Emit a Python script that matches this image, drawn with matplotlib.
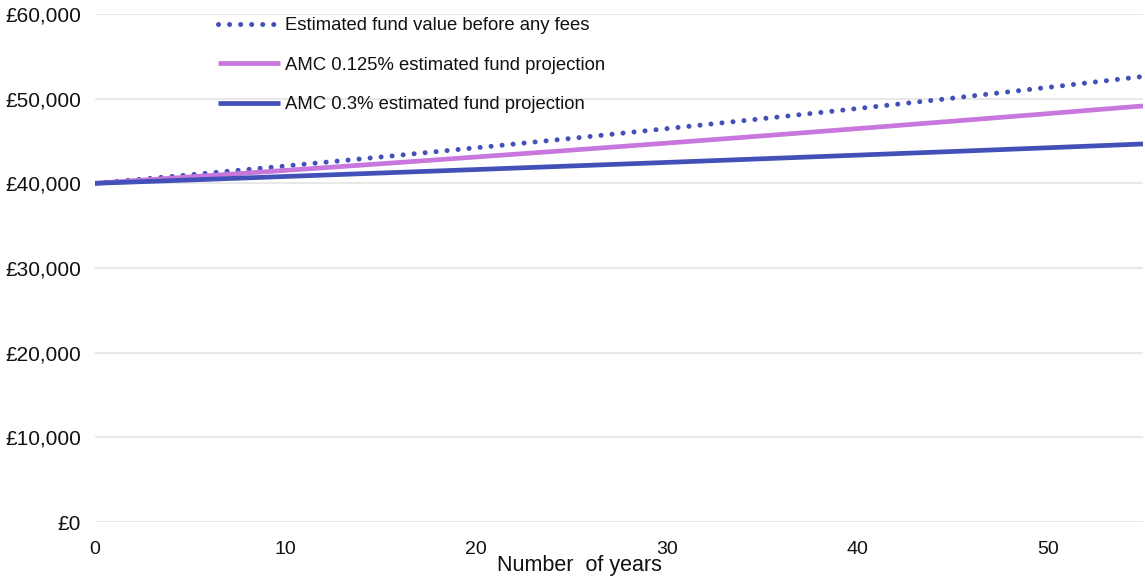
import matplotlib
matplotlib.use("Agg")
import matplotlib.pyplot as plt
from matplotlib.ticker import FuncFormatter
from matplotlib.patches import Rectangle

years = [0, 5, 10, 15, 20, 25, 30, 35, 40, 45, 50, 55]
before_fees = [40000, 41010, 42050, 43110, 44200, 45310, 46460, 47630, 48830, 50060, 51330, 52620]
amc_0125 = [40000, 40760, 41530, 42310, 43110, 43920, 44750, 45600, 46460, 47340, 48230, 49140]
amc_03 = [40000, 40400, 40810, 41220, 41630, 42050, 42470, 42900, 43330, 43760, 44200, 44650]

labels = ["Estimated fund value before any fees",
          "AMC 0.125% estimated fund projection",
          "AMC 0.3% estimated fund projection"]
x_ticks = [0, 10, 20, 30, 40, 50]
y_ticks = [0, 10000, 20000, 30000, 40000, 50000, 60000]

BLUE = "#4350B8"
PINK = "#C878DC"

plt.rcParams['font.family'] = ['Liberation Sans', 'DejaVu Sans']

W, H = 1145, 579
fig = plt.figure(figsize=(W / 100, H / 100), dpi=100)
ax = fig.add_axes([95 / W, 1 - 522 / H, 1 - 95 / W - 2 / W, (522 - 14) / H])

ax.plot(years, before_fees, color=BLUE, lw=3.6, linestyle=(0, (0.01, 2.2)),
        dash_capstyle='round', label=labels[0], zorder=3)
ax.plot(years, amc_0125, color=PINK, lw=3.4, label=labels[1], zorder=3,
        solid_capstyle='butt')
ax.plot(years, amc_03, color=BLUE, lw=3.4, label=labels[2], zorder=3,
        solid_capstyle='butt')

ax.set_xlim(0, 55)
ax.set_ylim(0, 60000)
ax.set_xticks(x_ticks)
ax.set_yticks(y_ticks)
ax.yaxis.set_major_formatter(FuncFormatter(lambda v, p: f"£{int(v):,}"))
ax.tick_params(axis='both', length=0, colors='#111111')
ax.tick_params(axis='x', pad=14, labelsize=14)
ax.tick_params(axis='y', pad=10, labelsize=15)
ax.grid(axis='y', color='#e6e6e6', lw=1.3, zorder=0)
for s in ax.spines.values():
    s.set_visible(False)

# white legend backdrop hiding the upper gridlines
ax.add_patch(Rectangle((100 / W, 1 - 116 / H), (715 - 100) / W, 116 / H,
                       transform=fig.transFigure, facecolor='white',
                       edgecolor='none', zorder=1))

fig.text(579 / W, 1 - 566 / H, "Number  of years", fontsize=15.5,
         color='#111111', ha='center', va='center')

leg = fig.legend(loc='upper left', bbox_to_anchor=(218 / W, 1 - 17 / H),
                 frameon=False, fontsize=13.3,
                 handlelength=3.35, handletextpad=0.3, labelspacing=1.22,
                 borderpad=0, borderaxespad=0)
for t in leg.get_texts():
    t.set_color('#111111')

fig.savefig("out.png", dpi=100)
